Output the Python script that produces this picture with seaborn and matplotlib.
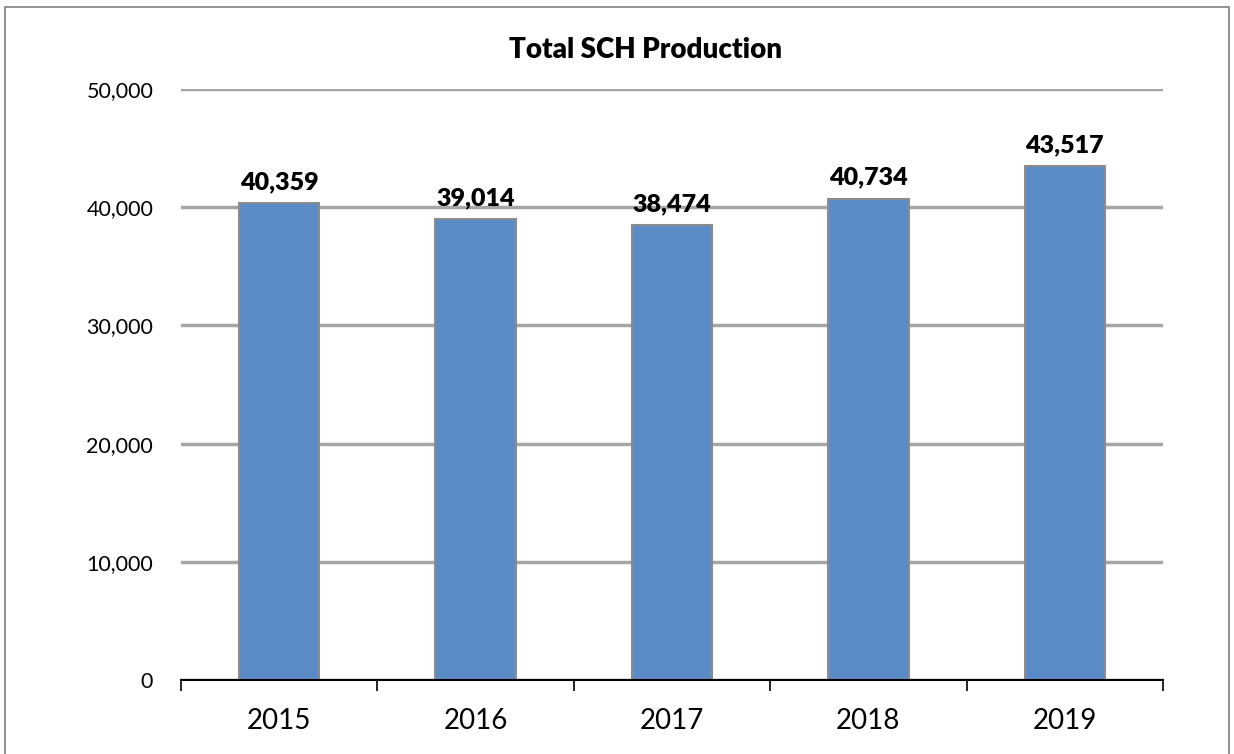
import pandas as pd
import matplotlib.pyplot as plt
import numpy as np
import seaborn as sns
from matplotlib.patches import Rectangle

# Datos del gráfico
años = ['2015', '2016', '2017', '2018', '2019']
sch = [40359, 39014, 38474, 40734, 43517]

df = pd.DataFrame({'Año': años, 'SCH': sch})

sns.set_style('white')
plt.rcParams['font.family'] = ['Lato', 'DejaVu Sans']
plt.rcParams['text.color'] = 'black'
plt.rcParams['xtick.color'] = 'black'
plt.rcParams['ytick.color'] = 'black'

fig = plt.figure(figsize=(12.34, 7.54), dpi=100)
ax = fig.add_axes([181/1234, 1 - 680/754, (1163-181)/1234, (680-89)/754])

# Barras
sns.barplot(data=df, x='Año', y='SCH', color='#5B8BC6', saturation=1,
            edgecolor='#8C8C8C', linewidth=1.5, width=0.41, ax=ax, zorder=3)

# Ejes y rejilla
ax.set_ylim(0, 50000)
ax.set_xlim(-0.5, 4.5)
ax.set_yticks(np.arange(0, 50001, 10000))
ax.set_yticklabels([f'{v:,}' for v in range(0, 50001, 10000)], fontsize=15.5)
ax.yaxis.grid(True, color='#A6A6A6', linewidth=2.5, zorder=0)
ax.set_axisbelow(True)
ax.tick_params(axis='y', length=0, pad=20, labelcolor='black')
ax.tick_params(axis='x', which='major', length=0, pad=20, labelsize=20, labelcolor='black')
ax.set_xticks(np.arange(-0.5, 5, 1), minor=True)
ax.tick_params(axis='x', which='minor', bottom=True, length=8, width=1.2,
               color='black', direction='out')
ax.set_xlabel('')
ax.set_ylabel('')
for lado in ['top', 'right', 'left']:
    ax.spines[lado].set_visible(False)
ax.spines['bottom'].set_color('black')
ax.spines['bottom'].set_linewidth(1.5)
ax.spines['bottom'].set_zorder(4)

# Etiquetas de valores
for i, v in enumerate(sch):
    ax.annotate(f'{v:,}', (i, v), textcoords='offset points', xytext=(0, 7),
                ha='center', va='bottom', fontsize=18, fontweight='heavy', color='black')

# Título
fig.text(646/1234, 1 - 50/754, 'Total SCH Production', ha='center', va='center',
         fontsize=20, fontweight='heavy', color='black')

# Borde exterior
fig.patches.append(Rectangle((5/1234, -0.05), 1224/1234, 1.05 - 7/754,
                             transform=fig.transFigure, fill=False,
                             edgecolor='#7F7F7F', linewidth=1.2))

plt.savefig('out.png', dpi=100)
